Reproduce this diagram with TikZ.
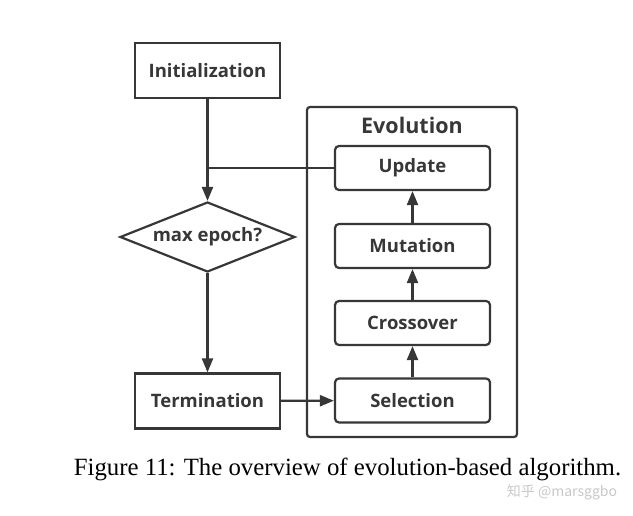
\documentclass[tikz,border=0pt]{standalone}
\usepackage{fontspec}
\usepackage{tikz}
\usetikzlibrary{shapes.geometric, arrows.meta, positioning}
\setmainfont{Liberation Serif}
\newfontfamily\boxfont{Open Sans}
\newfontfamily\cjkfont{Noto Sans CJK SC}
\definecolor{linecolor}{RGB}{55, 55, 55}
\definecolor{markcolor}{RGB}{200, 200, 200}

\begin{document}
\begin{tikzpicture}[
    x=1pt, y=-1pt,
    font=\boxfont\bfseries\fontsize{18.5}{20}\selectfont,
    every node/.style={text=linecolor},
    plainbox/.style={draw=linecolor, line width=2.2pt, minimum width=145pt, minimum height=55pt},
    evobox/.style={draw=linecolor, line width=2.2pt, rounded corners=4pt, minimum width=155pt, minimum height=44pt},
    decision/.style={draw=linecolor, line width=2.2pt, diamond, aspect=2.5, minimum width=175pt, minimum height=70pt, inner sep=0pt},
    arrow/.style={-{Triangle[length=14pt, width=11pt]}, draw=linecolor, line width=2.2pt}
]
\useasboundingbox (0,0) rectangle (633,516);

% Evolution container
\draw[draw=linecolor, line width=2.2pt, rounded corners=3pt] (307,107) rectangle (517,437);
\node (evotitle) at (412,125) {\fontsize{21.5}{23}\selectfont Evolution};

% Main flow
\node[plainbox] (init) at (207.5,70.5) {Initialization};
\node[decision] (epoch) at (207.5,237) {max epoch?};
\node[plainbox] (term) at (207.5,401) {Termination};

% Evolution steps
\node[evobox] (update) at (412.5,168) {Update};
\node[evobox] (mutation) at (412.5,246) {Mutation};
\node[evobox] (crossover) at (412.5,323) {Crossover};
\node[evobox] (selection) at (412.5,400.5) {Selection};

% Flow
\coordinate (join) at (init.south |- update.west);
\draw[arrow] (init) -- (epoch);
\draw[draw=linecolor, line width=2.2pt] (update) -- (join);
\draw[arrow] (epoch) -- (term);
\draw[arrow] (term) -- (selection);
\draw[arrow] (selection) -- (crossover);
\draw[arrow] (crossover) -- (mutation);
\draw[arrow] (mutation) -- (update);

% Caption
\node[font=\fontsize{24.8}{28}\selectfont, text=black] (caption) at (347.5,469) {Figure 11: The overview of evolution-based algorithm.};
\node[font=\cjkfont\fontsize{14}{16}\selectfont, text=markcolor] (mark) at (562,492) {知乎 @marsggbo};
\end{tikzpicture}
\end{document}
